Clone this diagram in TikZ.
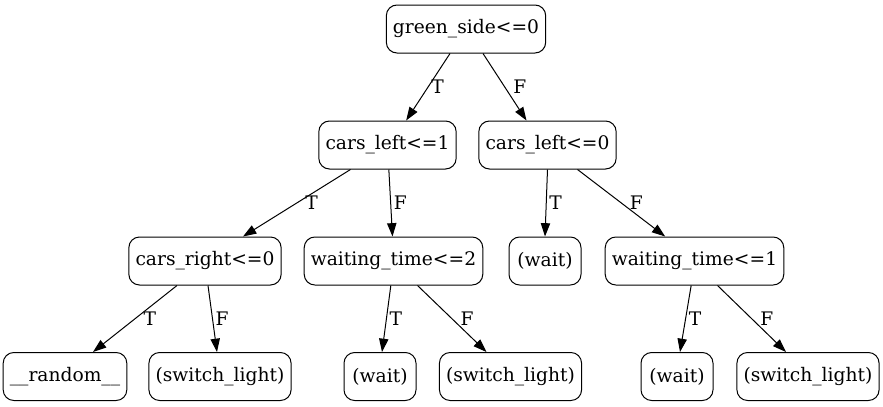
\documentclass[tikz,border=0pt]{standalone}
\usepackage{fontspec}
\setmainfont{DejaVu Serif}
\usetikzlibrary{arrows.meta}

\begin{document}
\begin{tikzpicture}[x=0.75pt, y=-0.75pt,
  box/.style={draw, rounded corners=8pt, line width=0.75pt, minimum width=54pt, minimum height=36pt, inner xsep=5pt, font=\fontsize{14}{16}\selectfont},
  arrow/.style={-{Triangle[length=10pt, width=7pt]}, line width=0.75pt},
  lbl/.style={midway, anchor=west, inner sep=2pt, font=\fontsize{14}{16}\selectfont},
  far/.style={lbl, xshift=4pt}
]
\useasboundingbox (0,0) rectangle (883,407);

% level 1
\node[box] (root) at (466,29) {green\_side<=0};

% level 2
\node[box] (left) at (387.5,145) {cars\_left<=1};
\node[box] (right) at (547.5,145) {cars\_left<=0};

% level 3
\node[box] (carsr) at (205,261) {cars\_right<=0};
\node[box] (waitb) at (393.5,261) {waiting\_time<=2};
\node[box] (waitm) at (545,261) {(wait)};
\node[box] (waitc) at (694.5,261) {waiting\_time<=1};

% leaves
\node[box] (rand) at (65,376.5) {\_\_random\_\_};
\node[box] (swa) at (220,376.5) {(switch\_light)};
\node[box] (waita) at (380,376.5) {(wait)};
\node[box] (swb) at (510.5,376.5) {(switch\_light)};
\node[box] (waitd) at (677,376.5) {(wait)};
\node[box] (swc) at (808,376.5) {(switch\_light)};

\draw[arrow] ([xshift=-12pt]root.south) -- node[lbl] {T} ([xshift=14pt]left.north);
\draw[arrow] ([xshift=12.75pt]root.south) -- node[far] {F} ([xshift=-15.75pt]right.north);
\draw[arrow] ([xshift=-27.75pt]left.south) -- node[far] {T} ([xshift=28.5pt]carsr.north);
\draw[arrow] ([xshift=1pt]left.south) -- node[lbl] {F} ([xshift=-0.75pt]waitb.north);
\draw[arrow] (right.south) -- node[lbl] {T} (waitm.north);
\draw[arrow] ([xshift=22.5pt]right.south) -- node[far] {F} ([xshift=-22pt]waitc.north);
\draw[arrow] ([xshift=-21pt]carsr.south) -- node[far] {T} ([xshift=21pt]rand.north);
\draw[arrow] ([xshift=2.25pt]carsr.south) -- node[lbl] {F} ([xshift=-2.25pt]swa.north);
\draw[arrow] ([xshift=-2pt]waitb.south) -- node[lbl] {T} ([xshift=1.5pt]waita.north);
\draw[arrow] ([xshift=18pt]waitb.south) -- node[far] {F} ([xshift=-18pt]swb.north);
\draw[arrow] ([xshift=-2.5pt]waitc.south) -- node[lbl] {T} ([xshift=2.25pt]waitd.north);
\draw[arrow] ([xshift=17.25pt]waitc.south) -- node[far] {F} ([xshift=-16.5pt]swc.north);
\end{tikzpicture}
\end{document}
